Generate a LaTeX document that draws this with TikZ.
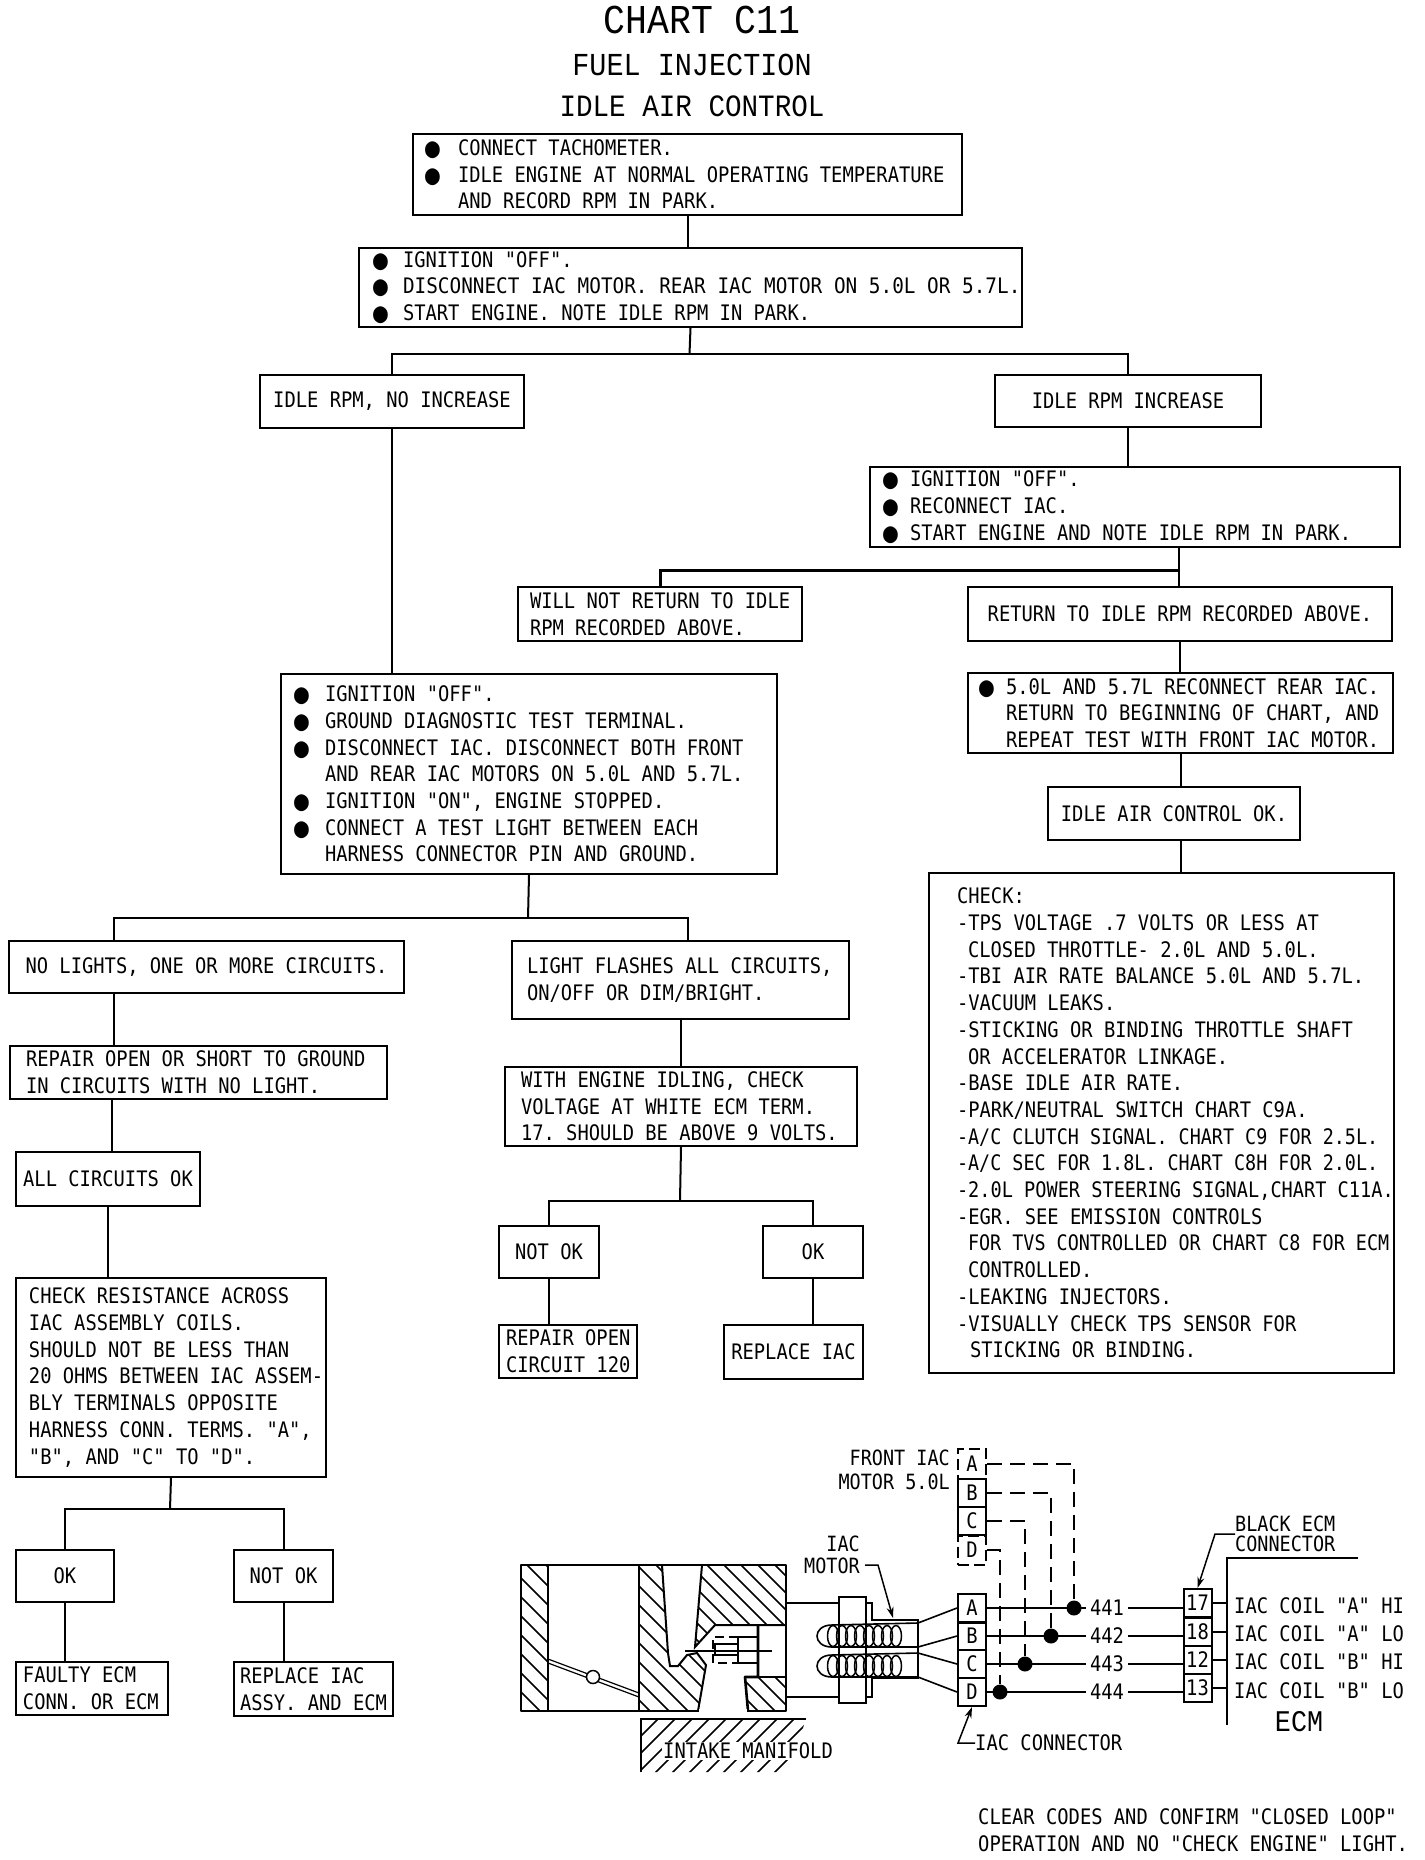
\documentclass[tikz,border=0pt]{standalone}
\usepackage{fontspec}
\usepackage{graphicx}
\newfontfamily\chartfont{DejaVu Sans Mono}[FakeStretch=0.88]
\newfontfamily\thinfont{Liberation Mono}[FakeStretch=0.89]
\usetikzlibrary{arrows.meta, calc}
\frenchspacing
\newcommand{\bul}[1]{\makebox[#1pt][l]{\raisebox{-2pt}{\fontsize{28}{28}\selectfont ●}}}
\newcommand{\ind}[1]{\hspace*{#1pt}}
\newcommand{\sx}[2]{\scalebox{#1}[1]{#2}}

\begin{document}
\begin{tikzpicture}[
    x=1pt, y=-1pt,
    >=Stealth,
    font=\chartfont\fontsize{21.35}{26.7}\selectfont,
    plate/.style n args={3}{
        draw, line width=2pt, anchor=north west, align=left,
        minimum width=#1pt, minimum height=#2pt,
        text width=#1pt, inner xsep=0pt, inner ysep=0pt,
        execute at begin node={\leftskip=#3pt\spaceskip=0pt\xspaceskip=0pt\relax},
    },
    tagbox/.style 2 args={
        draw, line width=2pt, anchor=north west, align=center,
        minimum width=#1pt, minimum height=#2pt, inner sep=0pt,
    },
    link/.style={line width=2pt},
    wire/.style={line width=1.8pt},
    phantomwire/.style={line width=1.8pt, dash pattern=on 15pt off 8pt},
    pointer/.style={line width=1.5pt, -{Stealth[length=11pt, width=7pt]}},
    cell/.style={draw, line width=2pt, minimum width=28pt, minimum height=28pt, inner sep=0pt},
    brokencell/.style={cell, dash pattern=on 11pt off 5pt},
    bulge/.style={circle, fill=black, minimum size=15pt, inner sep=0pt},
    wirenum/.style={inner xsep=4pt, inner ysep=0pt},
    caption/.style={anchor=west, inner sep=0pt, align=left,
        execute at begin node={\spaceskip=0pt\xspaceskip=0pt\relax}},
    hatch/.style={line width=1.5pt},
    solid body/.style={line width=2.6pt, line join=round},
    titletext/.style={inner sep=0pt},
]
\path[fill=white, use as bounding box] (0,0) rectangle (1424,1860);

% =============================================
% TITLE
% =============================================
\node[titletext, font=\thinfont\fontsize{41}{41}\selectfont] (title) at (702,20) {CHART C11};
\node[titletext, font=\thinfont\fontsize{32}{32}\selectfont] (fuel) at (692,65) {FUEL INJECTION};
\node[titletext, font=\thinfont\fontsize{31}{31}\selectfont] (iac) at (692,106) {IDLE AIR CONTROL};

% =============================================
% FLOW BOXES
% =============================================
\node[plate={549}{81}{12}] (tach) at (412,133) {%
  \bul{33}CONNECT TACHOMETER.\\
  \bul{33}IDLE ENGINE AT NORMAL OPERATING TEMPERATURE\\
  \ind{33}AND RECORD RPM IN PARK.};
\node[plate={663}{79}{14}] (discon) at (358,247) {%
  \bul{30}IGNITION "OFF".\\
  \bul{30}\sx{1.03}{DISCONNECT IAC MOTOR. REAR IAC MOTOR ON 5.0L OR 5.7L.}\\
  \bul{30}START ENGINE. NOTE IDLE RPM IN PARK.};
\node[tagbox={264}{53}] (noinc) at (259,374) {IDLE RPM, NO INCREASE};
\node[tagbox={266}{52}] (inc) at (994,374) {IDLE RPM INCREASE};
\node[plate={530}{80}{13}] (restart) at (869,466) {%
  \bul{27}IGNITION "OFF".\\
  \bul{27}RECONNECT IAC.\\
  \bul{27}START ENGINE AND NOTE IDLE RPM IN PARK.};
\node[plate={284}{54}{12}] (notret) at (517,586) {%
  WILL NOT RETURN TO IDLE\\
  RPM RECORDED ABOVE.};
\node[tagbox={424}{54}] (ret) at (967,586) {RETURN TO IDLE RPM RECORDED ABOVE.};
\node[plate={425}{80}{11}] (recon) at (967,672) {%
  \bul{27}5.0L AND 5.7L RECONNECT REAR IAC.\\
  \ind{27}RETURN TO BEGINNING OF CHART, AND\\
  \ind{27}REPEAT TEST WITH FRONT IAC MOTOR.};
\node[tagbox={252}{53}] (okbox) at (1047,786) {IDLE AIR CONTROL OK.};
\node[plate={465}{500}{28}] (check) at (928,872) {%
  CHECK:\\
  -TPS VOLTAGE .7 VOLTS OR LESS AT\\
  \ind{11}CLOSED THROTTLE- 2.0L AND 5.0L.\\
  -TBI AIR RATE BALANCE 5.0L AND 5.7L.\\
  -VACUUM LEAKS.\\
  -STICKING OR BINDING THROTTLE SHAFT\\
  \ind{11}OR ACCELERATOR LINKAGE.\\
  -BASE IDLE AIR RATE.\\
  -PARK/NEUTRAL SWITCH CHART C9A.\\
  \sx{.98}{-A/C CLUTCH SIGNAL. CHART C9 FOR 2.5L.}\\
  \sx{.98}{-A/C SEC FOR 1.8L. CHART C8H FOR 2.0L.}\\
  \sx{.99}{-2.0L POWER STEERING SIGNAL,CHART C11A.}\\
  -EGR. SEE EMISSION CONTROLS\\
  \ind{11}\sx{.98}{FOR TVS CONTROLLED OR CHART C8 FOR ECM}\\
  \ind{11}CONTROLLED.\\
  -LEAKING INJECTORS.\\
  -VISUALLY CHECK TPS SENSOR FOR\\
  \ind{13}STICKING OR BINDING.};
\node[plate={496}{200}{13}] (ign) at (280,673) {%
  \bul{31}IGNITION "OFF".\\
  \bul{31}GROUND DIAGNOSTIC TEST TERMINAL.\\
  \bul{31}DISCONNECT IAC. DISCONNECT BOTH FRONT\\
  \ind{31}AND REAR IAC MOTORS ON 5.0L AND 5.7L.\\
  \bul{31}IGNITION "ON", ENGINE STOPPED.\\
  \bul{31}CONNECT A TEST LIGHT BETWEEN EACH\\
  \ind{31}HARNESS CONNECTOR PIN AND GROUND.};
\node[tagbox={395}{52}] (nol) at (8,940) {NO LIGHTS, ONE OR MORE CIRCUITS.};
\node[plate={337}{78}{15}] (flash) at (511,940) {%
  LIGHT FLASHES ALL CIRCUITS,\\
  ON/OFF OR DIM/BRIGHT.};
\node[plate={377}{53}{16}] (repair) at (9,1045) {%
  REPAIR OPEN OR SHORT TO GROUND\\
  IN CIRCUITS WITH NO LIGHT.};
\node[plate={352}{79}{16}] (withe) at (504,1066) {%
  WITH ENGINE IDLING, CHECK\\
  VOLTAGE AT WHITE ECM TERM.\\
  17. SHOULD BE ABOVE 9 VOLTS.};
\node[tagbox={184}{54}] (allok) at (15,1151) {ALL CIRCUITS OK};
\node[plate={310}{199}{13}] (res) at (15,1277) {%
  CHECK RESISTANCE ACROSS\\
  IAC ASSEMBLY COILS.\\
  SHOULD NOT BE LESS THAN\\
  20 OHMS BETWEEN IAC ASSEM-\\
  BLY TERMINALS OPPOSITE\\
  HARNESS CONN. TERMS. "A",\\
  "B", AND "C" TO "D".};
\node[tagbox={100}{52}] (notokA) at (498,1225) {NOT OK};
\node[tagbox={100}{52}] (okA) at (762,1225) {OK};
\node[plate={138}{53}{7}] (repopen) at (498,1324) {%
  REPAIR OPEN\\
  CIRCUIT 120};
\node[tagbox={139}{54}] (repiac) at (723,1324) {REPLACE IAC};
\node[tagbox={98}{52}] (okB) at (15,1549) {OK};
\node[tagbox={99}{52}] (notokB) at (233,1549) {NOT OK};
\node[plate={152}{53}{7}] (faulty) at (15,1661) {%
  FAULTY ECM\\
  CONN. OR ECM};
\node[plate={159}{54}{6}] (repasm) at (233,1661) {%
  REPLACE IAC\\
  ASSY. AND ECM};

% =============================================
% FLOW CONNECTORS
% =============================================
\coordinate (busA) at (689.5,354);
\coordinate (busB) at (1179,570);
\coordinate (busC) at (528,918);
\coordinate (nolin) at (114,918);
\coordinate (flashin) at (688,918);
\coordinate (repin) at (112,1125);
\coordinate (busD) at (680,1201);
\coordinate (busE) at (170,1509);

\draw[link] (tach.south) -- (tach.south |- discon.north);
\draw[link] (discon.south) -- (busA);
\draw[link] (noinc.north) |- (busA) -| (inc.north);
\draw[link] (noinc.south) -- (noinc.south |- ign.north);
\draw[link] (inc.south) -- (inc.south |- restart.north);
\draw[link] (busB |- restart.south) -- (busB |- ret.north);
\draw[line width=3pt] (notret.north) |- (busB);
\draw[link] (ret.south) -- (ret.south |- recon.north);
\draw[link] (recon.south) -- (recon.south |- okbox.north);
\draw[link] (recon.south |- okbox.south) -- (recon.south |- check.north);
\draw[link] (ign.south) -- (busC);
\draw[link] (nolin |- nol.north) -- (nolin) -- (flashin) -- (flashin |- flash.north);
\draw[link] (nolin |- nol.south) -- (nolin |- repair.north);
\draw[link] (repin |- repair.south) -- (repin |- allok.north);
\draw[link] (allok.south) -- (allok.south |- res.north);
\draw[link] (flash.south) -- (flash.south |- withe.north);
\draw[link] (withe.south) -- (busD);
\draw[link] (notokA.north) |- (busD) -| (okA.north);
\draw[link] (notokA.south) -- (notokA.south |- repopen.north);
\draw[link] (okA.south) -- (okA.south |- repiac.north);
\draw[link] (res.south) -- (busE);
\draw[link] (okB.north) |- (busE) -| (notokB.north);
\draw[link] (okB.south) -- (okB.south |- faulty.north);
\draw[link] (notokB.south) -- (notokB.south |- repasm.north);

% =============================================
% THROTTLE BODY - hatched cut-away
% =============================================
% Left wall
\begin{scope}
  \clip (521,1565) rectangle (548,1711);
  \foreach \c in {310,329,...,490}
    \draw[hatch] (\c,1500) -- ++(300,300);
\end{scope}
% Centre block
\begin{scope}
  \clip (639,1565) -- (662,1565) -- (668,1653) -- (670,1666) -- (678,1666) -- (687,1655)
    -- (697,1653) -- (706,1665) -- (698,1711) -- (639,1711) -- cycle;
  \foreach \c in {420,439,...,650}
    \draw[hatch] (\c,1500) -- ++(300,300);
\end{scope}
% Upper right block
\begin{scope}
  \clip (702,1565) -- (786,1565) -- (786,1625) -- (715,1625) -- (695,1647) -- cycle;
  \foreach \c in {540,557,...,730}
    \draw[hatch] (\c,1500) -- ++(300,300);
\end{scope}
% Lower right block
\begin{scope}
  \clip (745,1677) -- (786,1677) -- (786,1711) -- (748,1711) -- cycle;
  \foreach \c in {530,547,...,620}
    \draw[hatch] (\c,1500) -- ++(300,300);
\end{scope}
% Outlines
\draw[solid body] (521,1565) rectangle (786,1711);
\draw[solid body] (548,1565) -- (548,1711);
\draw[solid body] (639,1565) -- (639,1711);
\draw[line width=2pt] (662,1565) -- (668,1653) -- (670,1666) -- (678,1666) -- (687,1655) -- (697,1653) -- (706,1665) -- (698,1711);
\draw[line width=2pt] (702,1565) -- (695,1647) -- (715,1625) -- (786,1625);
\draw[solid body] (758,1625) -- (758,1677) -- (745,1677) -- (748,1711);
\draw[solid body] (745,1677) -- (786,1677);
% White gap of the outer frame
\draw[white, line width=3.2pt] (699,1711) -- (747,1711);
% Throttle plate
\draw[line width=1.2pt] (548,1659) -- (639,1693);
\draw[line width=1.2pt] (548,1663) -- (639,1697);
\draw[line width=1.5pt, fill=white] (593,1677) circle (6.5);
% Pintle
\draw[line width=1.5pt] (685,1651) -- (772,1651);
\draw[line width=2pt, dash pattern=on 9pt off 5pt] (738,1637) -- (713,1637) -- (713,1663) -- (738,1663);
\draw[line width=2pt] (738,1637) -- (758,1637);
\draw[line width=1.5pt] (715,1644) rectangle (738,1655);
\draw[line width=1.5pt] (738,1637) -- (738,1663) -- (758,1663);

% =============================================
% IAC MOTOR - flange, body and coils
% =============================================
\coordinate (coilA) at (918,1623);
\coordinate (coilB) at (918,1647);
\coordinate (coilC) at (918,1653);
\coordinate (coilD) at (918,1677);
\draw[line width=2.2pt] (786,1603) -- (839,1603);
\draw[line width=2.2pt] (786,1697) -- (839,1697);
\draw[line width=2.2pt] (839,1597) rectangle (866,1703);
\draw[line width=2pt] (866,1603) -- (872,1603) -- (872,1620) -- (918,1620) -- (918,1678) -- (872,1678) -- (872,1697) -- (866,1697);
% Coils
\draw[line width=1.6pt] (coilA) -- (832,1625) .. controls (812,1625) and (812,1647) .. (832,1647) -- (coilB);
\draw[line width=1.6pt] (coilC) -- (832,1655) .. controls (812,1655) and (812,1677) .. (832,1677) -- (coilD);
\foreach \x in {833,842,...,896} {
  \draw[line width=1.5pt] (\x,1636) ellipse (5.5 and 10.5);
  \draw[line width=1.5pt] (\x,1666) ellipse (5.5 and 10.5);
}

% =============================================
% CONNECTORS AND WIRING
% =============================================
\node[cell, minimum height=29pt] (connA) at (972,1608) {A};
\node[cell] (connB) at (972,1636) {B};
\node[cell] (connC) at (972,1664) {C};
\node[cell] (connD) at (972,1692) {D};
\node[brokencell, minimum height=30pt] (frontA) at (972,1464) {A};
\node[cell] (frontB) at (972,1493) {B};
\node[cell] (frontC) at (972,1521) {C};
\node[brokencell, minimum height=29pt] (frontD) at (972,1550) {D};
\node[cell] (pinA) at (1197.5,1603) {17};
\node[cell] (pinB) at (1197.5,1632) {18};
\node[cell] (pinC) at (1197.5,1660) {12};
\node[cell] (pinD) at (1197.5,1688) {13};

\draw[line width=1.6pt] (coilA) -- (connA.west);
\draw[line width=1.6pt] (coilB) -- (connB.west);
\draw[line width=1.6pt] (coilC) -- (connC.west);
\draw[line width=1.6pt] (coilD) -- (connD.west);

\node[wirenum] (num441) at (1107,1608) {441};
\node[wirenum] (num442) at (1107,1636) {442};
\node[wirenum] (num443) at (1107,1664) {443};
\node[wirenum] (num444) at (1107,1692) {444};
\node[bulge] (dotA) at (1074,1608) {};
\node[bulge] (dotB) at (1051,1636) {};
\node[bulge] (dotC) at (1025,1664) {};
\node[bulge] (dotD) at (1000,1692) {};

\foreach \a/\n in {A/441,B/442,C/443,D/444} {
  \draw[wire] (conn\a.east) -- (num\n.west);
  \draw[wire] (num\n.east) -- (num\n.east -| pin\a.west);
  \draw[phantomwire] (front\a.east) -| (dot\a);
  \draw[wire] (pin\a.east) -- (pin\a.east -| 1227,0);
}

% ECM edge
\coordinate (ecmtop) at (1227,1558);
\draw[line width=2pt] (1358,1558) -- (ecmtop) -- (1227,1725);

% =============================================
% LABELS
% =============================================
\node[caption] (coilAhi) at (1234,1606) {IAC COIL "A" HI};
\node[caption] (coilAlo) at (1234,1634) {IAC COIL "A" LO};
\node[caption] (coilBhi) at (1234,1662) {IAC COIL "B" HI};
\node[caption] (coilBlo) at (1234,1691) {IAC COIL "B" LO};
\node[titletext, font=\thinfont\fontsize{30}{30}\selectfont] (ecm) at (1299,1722) {ECM};
\node[caption, font=\chartfont\fontsize{21}{20}\selectfont] (black) at (1235,1534) {BLACK ECM\\CONNECTOR};
\node[caption] (conlabel) at (975,1743) {IAC CONNECTOR};
\node[anchor=east, inner sep=0pt, align=right, font=\chartfont\fontsize{21}{22}\selectfont] (motor) at (860,1555) {IAC\\MOTOR};
\node[anchor=east, inner sep=0pt, align=right, font=\chartfont\fontsize{21}{24}\selectfont] (frontm) at (950,1470) {FRONT IAC\\MOTOR 5.0L};
\node[caption] (clear) at (978,1830) {CLEAR CODES AND CONFIRM "CLOSED LOOP"\\OPERATION AND NO "CHECK ENGINE" LIGHT.};

\draw[pointer] (motor.east |- 0,1565) ++(5,0) -- ++(13,0) -- (893,1618);
\draw[pointer] (black.west) -- ++(-20,0) -- (pinA.north);
\draw[pointer] (conlabel.west) -- ++(-17,0) -- (connD.south);

% Intake manifold
\begin{scope}
  \clip (641,1719) -- (806,1719) -- (788,1772) -- (641,1772) -- cycle;
  \foreach \c in {660,677,...,880}
    \draw[hatch] (\c,1700) -- ++(-100,100);
\end{scope}
\draw[line width=2pt] (641,1772) -- (641,1719) -- (806,1719);
\node[anchor=west, fill=white, inner xsep=1pt, inner ysep=1pt] (manifold) at (662,1751) {INTAKE MANIFOLD};

\end{tikzpicture}
\end{document}
